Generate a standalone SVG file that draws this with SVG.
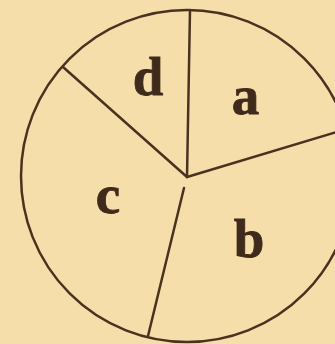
<svg xmlns="http://www.w3.org/2000/svg" width="335" height="344" viewBox="0 0 335 344">
<style>
.ln{stroke:#4a3221;stroke-width:2.5;fill:none;stroke-linecap:round}
.lb{font-family:"Liberation Serif","Times New Roman",serif;font-weight:bold;font-size:55px;fill:#3f2a1b;stroke:#3f2a1b;stroke-width:0.8;text-anchor:middle}
</style>
<rect width="335" height="344" fill="#f6deab"/>
<g id="circle"><ellipse class="ln" cx="187" cy="176" rx="166" ry="166"/></g>
<g id="connectors">
<line class="ln" x1="187" y1="177" x2="190" y2="10" stroke-width="3"/>
<line class="ln" x1="187" y1="177" x2="63" y2="67"/>
<line class="ln" x1="187" y1="177" x2="340" y2="131"/>
<line class="ln" x1="184" y1="188" x2="148" y2="336"/>
</g>
<g id="a"><text class="lb" x="245.5" y="114">a</text></g>
<g id="b"><text class="lb" x="249" y="257">b</text></g>
<g id="c"><text class="lb" x="108" y="213">c</text></g>
<g id="d"><text class="lb" x="148" y="95">d</text></g>
</svg>
